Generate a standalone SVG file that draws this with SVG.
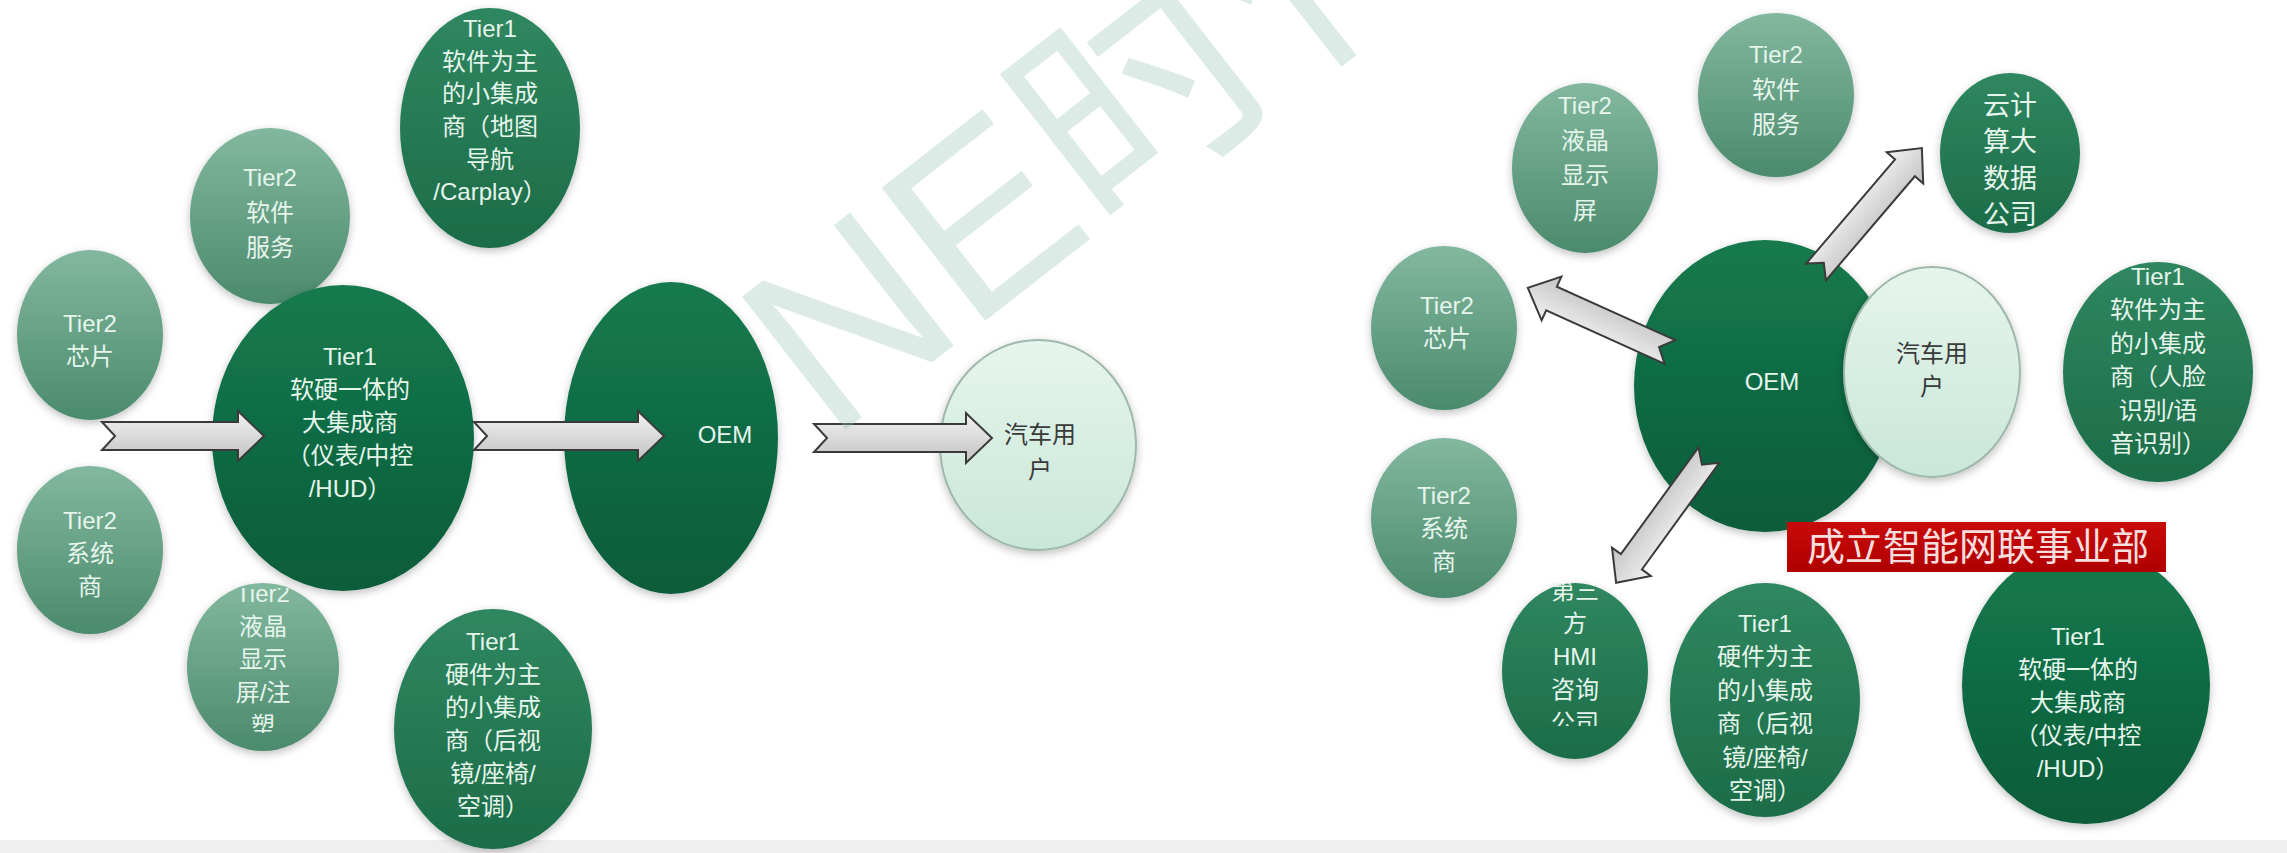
<svg xmlns="http://www.w3.org/2000/svg" width="2287" height="853" viewBox="0 0 2287 853">
<style>
  .lbl{font-family:"Liberation Sans","Noto Sans CJK SC",sans-serif;font-size:24px;fill:#e6f5ec;text-anchor:middle}
  .dlbl{font-family:"Liberation Sans","Noto Sans CJK SC",sans-serif;font-size:24px;fill:#3a3a3a;text-anchor:middle}
  .t2{fill:url(#gT2);filter:url(#sh)}
  .t1{fill:url(#gT1);filter:url(#sh)}
  .dk{fill:url(#gDk);filter:url(#sh)}
  .usr{fill:url(#gUsr);stroke:#9fb8ab;stroke-width:2;filter:url(#sh)}
  .arr{fill:url(#gArr);stroke:#3a3a3a;stroke-width:2;stroke-linejoin:miter}
  .wm{font-family:"Liberation Sans","Noto Sans CJK SC",sans-serif;font-size:245px;fill:#96c3b1;opacity:0.33}
</style>
<defs>
  <linearGradient id="gT2" x1="0" y1="0" x2="0" y2="1"><stop offset="0" stop-color="#82b89f"/><stop offset="1" stop-color="#4b8a6d"/></linearGradient>
  <linearGradient id="gT1" x1="0" y1="0" x2="0" y2="1"><stop offset="0" stop-color="#2f8760"/><stop offset="1" stop-color="#1c6c48"/></linearGradient>
  <linearGradient id="gDk" x1="0" y1="0" x2="0" y2="1"><stop offset="0" stop-color="#147a4e"/><stop offset="1" stop-color="#0c5c3a"/></linearGradient>
  <linearGradient id="gUsr" x1="0" y1="0" x2="0" y2="1"><stop offset="0" stop-color="#e6f5ed"/><stop offset="1" stop-color="#c9e7d8"/></linearGradient>
  <linearGradient id="gArr" x1="0" y1="0" x2="0" y2="1"><stop offset="0" stop-color="#f2f2f2"/><stop offset="1" stop-color="#c2c2c2"/></linearGradient>
  <linearGradient id="gRed" x1="0" y1="0" x2="0" y2="1"><stop offset="0" stop-color="#c80a0a"/><stop offset="1" stop-color="#b00000"/></linearGradient>
  <filter id="sh" x="-20%" y="-20%" width="140%" height="140%"><feDropShadow dx="0" dy="3" stdDeviation="4" flood-color="#000" flood-opacity="0.25"/></filter>
  <clipPath id="c8"><rect x="180" y="588" width="170" height="145"/></clipPath>
  <clipPath id="c16"><rect x="2060" y="262" width="200" height="193"/></clipPath>
  <clipPath id="c18"><rect x="1495" y="583" width="160" height="143"/></clipPath>
</defs>
<rect width="2287" height="853" fill="#ffffff"/>
<rect y="840" width="2287" height="13" fill="#efefef"/>

<!-- LEFT DIAGRAM -->
<g id="n1"><ellipse class="t1" cx="490" cy="128" rx="90" ry="120"/>
  <text class="lbl"><tspan x="490" y="37">Tier1</tspan><tspan x="490" y="70">软件为主</tspan><tspan x="490" y="102">的小集成</tspan><tspan x="490" y="135">商（地图</tspan><tspan x="490" y="168">导航</tspan><tspan x="490" y="200">/Carplay）</tspan></text></g>
<g id="n2"><ellipse class="t2" cx="270" cy="216" rx="80" ry="88"/>
  <text class="lbl"><tspan x="270" y="186">Tier2</tspan><tspan x="270" y="221">软件</tspan><tspan x="270" y="256">服务</tspan></text></g>
<g id="n3"><ellipse class="t2" cx="90" cy="335" rx="73" ry="85"/>
  <text class="lbl"><tspan x="90" y="332">Tier2</tspan><tspan x="90" y="365">芯片</tspan></text></g>
<g id="n7"><ellipse class="t2" cx="90" cy="550" rx="73" ry="84"/>
  <text class="lbl"><tspan x="90" y="529">Tier2</tspan><tspan x="90" y="562">系统</tspan><tspan x="90" y="595">商</tspan></text></g>
<g id="n8"><ellipse class="t2" cx="263" cy="667" rx="76" ry="84"/>
  <text class="lbl" clip-path="url(#c8)"><tspan x="263" y="602">Tier2</tspan><tspan x="263" y="635">液晶</tspan><tspan x="263" y="668">显示</tspan><tspan x="263" y="701">屏/注</tspan><tspan x="263" y="734">塑</tspan></text></g>
<g id="n4"><ellipse class="dk" cx="343" cy="438" rx="131" ry="153"/>
  <text class="lbl"><tspan x="350" y="365">Tier1</tspan><tspan x="350" y="398">软硬一体的</tspan><tspan x="350" y="431">大集成商</tspan><tspan x="350" y="464">（仪表/中控</tspan><tspan x="350" y="497">/HUD）</tspan></text></g>
<g id="n9"><ellipse class="t1" cx="493" cy="729" rx="99" ry="120"/>
  <text class="lbl"><tspan x="493" y="650">Tier1</tspan><tspan x="493" y="683">硬件为主</tspan><tspan x="493" y="716">的小集成</tspan><tspan x="493" y="749">商（后视</tspan><tspan x="493" y="782">镜/座椅/</tspan><tspan x="493" y="815">空调）</tspan></text></g>
<g id="n5"><ellipse class="dk" cx="671" cy="438" rx="107" ry="156"/>
  <text class="lbl" x="725" y="443">OEM</text></g>
<g id="n6"><ellipse class="usr" cx="1038" cy="445" rx="98" ry="105"/>
  <text class="dlbl"><tspan x="1040" y="443">汽车用</tspan><tspan x="1040" y="478">户</tspan></text></g>

<!-- RIGHT DIAGRAM -->
<g id="n10"><ellipse class="t2" cx="1585" cy="168" rx="73" ry="85"/>
  <text class="lbl"><tspan x="1585" y="114">Tier2</tspan><tspan x="1585" y="149">液晶</tspan><tspan x="1585" y="184">显示</tspan><tspan x="1585" y="219">屏</tspan></text></g>
<g id="n11"><ellipse class="t2" cx="1776" cy="95" rx="78" ry="82"/>
  <text class="lbl"><tspan x="1776" y="63">Tier2</tspan><tspan x="1776" y="98">软件</tspan><tspan x="1776" y="133">服务</tspan></text></g>
<g id="n12"><ellipse class="t1" cx="2010" cy="153" rx="70" ry="80"/>
  <text class="lbl" style="font-size:27px"><tspan x="2010" y="115">云计</tspan><tspan x="2010" y="151">算大</tspan><tspan x="2010" y="188">数据</tspan><tspan x="2010" y="224">公司</tspan></text></g>
<g id="n13"><ellipse class="t2" cx="1444" cy="328" rx="73" ry="82"/>
  <text class="lbl"><tspan x="1447" y="314">Tier2</tspan><tspan x="1447" y="347">芯片</tspan></text></g>
<g id="n17"><ellipse class="t2" cx="1444" cy="518" rx="73" ry="80"/>
  <text class="lbl"><tspan x="1444" y="504">Tier2</tspan><tspan x="1444" y="537">系统</tspan><tspan x="1444" y="570">商</tspan></text></g>
<g id="n14"><ellipse class="dk" cx="1765" cy="386" rx="131" ry="146"/>
  <text class="lbl" x="1772" y="390">OEM</text></g>
<g id="n15"><ellipse class="usr" cx="1932" cy="372" rx="88" ry="105"/>
  <text class="dlbl"><tspan x="1932" y="362">汽车用</tspan><tspan x="1932" y="395">户</tspan></text></g>
<g id="n16"><ellipse class="t1" cx="2158" cy="372" rx="95" ry="110"/>
  <text class="lbl" clip-path="url(#c16)"><tspan x="2158" y="285">Tier1</tspan><tspan x="2158" y="318">软件为主</tspan><tspan x="2158" y="352">的小集成</tspan><tspan x="2158" y="385">商（人脸</tspan><tspan x="2158" y="419">识别/语</tspan><tspan x="2158" y="452">音识别）</tspan></text></g>
<g id="n18"><ellipse class="t1" cx="1575" cy="671" rx="73" ry="88"/>
  <text class="lbl" clip-path="url(#c18)"><tspan x="1575" y="599">第三</tspan><tspan x="1575" y="632">方</tspan><tspan x="1575" y="665">HMI</tspan><tspan x="1575" y="698">咨询</tspan><tspan x="1575" y="731">公司</tspan></text></g>
<g id="n19"><ellipse class="t1" cx="1765" cy="700" rx="95" ry="117"/>
  <text class="lbl"><tspan x="1765" y="632">Tier1</tspan><tspan x="1765" y="665">硬件为主</tspan><tspan x="1765" y="699">的小集成</tspan><tspan x="1765" y="732">商（后视</tspan><tspan x="1765" y="766">镜/座椅/</tspan><tspan x="1765" y="799">空调）</tspan></text></g>
<g id="n20"><ellipse class="dk" cx="2086" cy="685" rx="124" ry="139"/>
  <text class="lbl"><tspan x="2078" y="645">Tier1</tspan><tspan x="2078" y="678">软硬一体的</tspan><tspan x="2078" y="711">大集成商</tspan><tspan x="2078" y="744">（仪表/中控</tspan><tspan x="2078" y="777">/HUD）</tspan></text></g>
<g id="n21"><rect x="1787" y="522" width="379" height="50" fill="url(#gRed)"/>
  <text x="1978" y="560" style="font-family:'Liberation Sans','Noto Sans CJK SC',sans-serif;font-size:38px;fill:#f7dede;text-anchor:middle">成立智能网联事业部</text></g>

<!-- CONNECTORS -->
<g id="connectors">
  <polygon class="arr" transform="translate(102,436)" points="0,-14 136,-14 136,-25 162,0 136,25 136,14 0,14 13,0"/>
  <polygon class="arr" transform="translate(474,436)" points="0,-14 164,-14 164,-25 190,0 164,25 164,14 0,14 13,0"/>
  <polygon class="arr" transform="translate(814,438)" points="0,-14 152,-14 152,-25 178,0 152,25 152,14 0,14 13,0"/>
  <polygon class="arr" transform="translate(1670,352) rotate(204.3)" points="0,-13 130,-13 130,-24 156,0 130,24 130,13 0,13 12,0"/>
  <polygon class="arr" transform="translate(1816,272) rotate(-49.5)" points="0,-13 137,-13 137,-24 163,0 137,24 137,13 0,13 12,0"/>
  <polygon class="arr" transform="translate(1709,455) rotate(126)" points="0,-13 132,-13 132,-24 158,0 132,24 132,13 0,13 12,0"/>
</g>

<!-- watermark -->
<text class="wm" transform="translate(830,442) rotate(-38)">NE时代</text>
</svg>
